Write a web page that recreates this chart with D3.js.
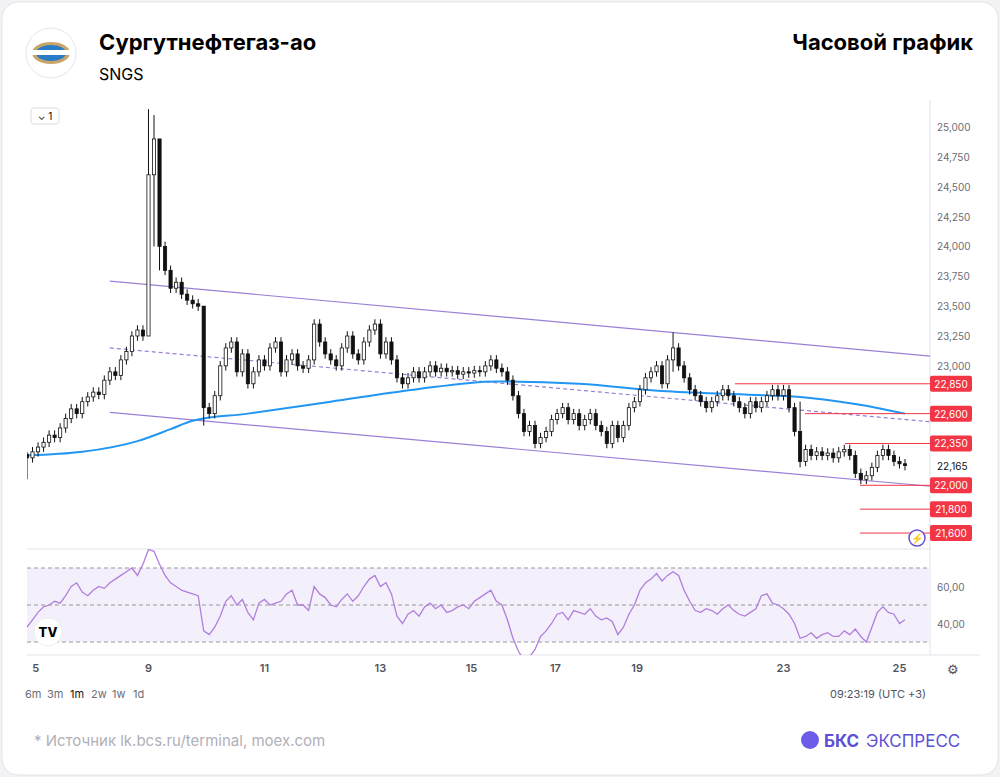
<!DOCTYPE html>
<html><head><meta charset="utf-8">
<script src="https://cdn.jsdelivr.net/npm/d3@7"></script>
<style>body{margin:0;background:#f3f3f5;font-family:Inter,"Noto Sans",sans-serif}</style>
</head><body><svg width="1000" height="777"></svg>
<script>
// closes per hourly candle, open = previous close
const closes = [22230,22280,22320,22360,22420,22400,22480,22560,22640,22600,
22700,22740,22780,22760,22880,22950,22920,23050,23120,23250,
23300,23250,24600,24900,24000,23800,23650,23700,23600,23550,
23520,23500,22650,22600,22750,23000,23150,23200,22950,23100,
22850,22950,23050,23000,23150,23200,22950,23050,23100,23000,
22980,23050,23350,23200,23100,23050,23000,23150,23250,23100,
23050,23200,23300,23350,23100,23200,23050,22900,22850,22900,
22950,22900,22950,23000,22950,22980,22950,22960,22930,22950,
22940,22960,22950,23000,23050,22980,22950,22880,22750,22600,
22450,22500,22350,22400,22450,22550,22600,22650,22550,22600,
22500,22550,22600,22500,22450,22350,22500,22400,22500,22650,
22700,22800,22900,22950,23000,22850,23050,23150,23000,22900,
22800,22750,22700,22650,22700,22750,22800,22750,22700,22650,
22600,22700,22650,22700,22750,22800,22750,22800,22650,22450,
22200,22300,22250,22280,22250,22270,22230,22280,22300,22250,
22100,22050,22080,22150,22250,22300,22250,22200,22180,22165];
const firstOpen = 22260;
const bigWicks = {0:[22280,22050],22:[25150,23300],23:[25100,24000],24:[24500,23800],32:[23500,22500],117:[23280,22950],140:[22700,22150]};
const rsi = [38,42,46,49,50,52,51,55,60,62,57,55,58,60,59,62,64,66,68,70,
66,72,80,79,72,66,62,60,58,57,56,55,36,34,38,44,52,55,50,53,
46,42,51,53,50,51,52,56,58,50,50,47,60,56,54,50,49,53,56,52,
55,60,64,66,60,62,56,44,40,45,47,44,49,51,48,50,46,47,49,50,
48,52,54,56,58,52,50,42,32,25,20,22,26,33,36,40,45,46,42,47,
46,45,48,44,42,43,41,34,38,45,50,58,62,64,67,63,66,68,66,58,
52,47,46,48,47,45,48,50,47,45,44,46,48,55,56,51,50,48,45,40,
32,33,35,32,34,35,33,33,36,34,37,33,30,38,46,49,46,45,40,42];
const maIdx = [0,10,20,26,30,40,55,70,85,100,115,130,140,150,159];
const maVal = [22250,22280,22370,22470,22540,22600,22700,22800,22870,22850,22790,22760,22740,22680,22600];
const dayTicks = [[1.6,"5"],[22,"9"],[43,"11"],[64,"13"],[80.5,"15"],[95.7,"17"],[110.5,"19"],[137,"23"],[158,"25"]];
const priceTicks = [21500,21750,22000,22250,22500,22750,23000,23250,23500,23750,24000,24250,24500,24750,25000];
const levels = [[22850,735],[22600,805],[22350,845],[22000,860],[21800,860],[21600,860]];
const channel = {upper:[[15,23710],[164,23080]], lower:[[15,22610],[164,21990]], mid:[[15,23150],[164,22530]]};

const svg = d3.select("svg");
svg.append("rect").attr("x",2).attr("y",2).attr("width",996).attr("height",773).attr("rx",16)
  .attr("fill","#fff").attr("stroke","#e4e4e8");

const x = d3.scaleLinear().domain([0,159]).range([27,905]);
const y = d3.scaleLinear().domain([21500,25000]).range([545,127]);
const yr = d3.scaleLinear().domain([30,70]).range([642,568]);
const fmt = d3.format(",");

// header
svg.append("circle").attr("cx",51).attr("cy",53).attr("r",25).attr("fill","#fff").attr("stroke","#e6e6e6");
svg.append("ellipse").attr("cx",51).attr("cy",53).attr("rx",19).attr("ry",11).attr("fill","#c9a56a");
svg.append("ellipse").attr("cx",51).attr("cy",53).attr("rx",15).attr("ry",8).attr("fill","#2a7cc7");
svg.append("rect").attr("x",32).attr("y",50).attr("width",38).attr("height",5).attr("fill","#fff");
svg.append("text").attr("x",99).attr("y",50).text("Сургутнефтегаз-ао").attr("font-size",22).attr("font-weight",700);
svg.append("text").attr("x",99).attr("y",80).text("SNGS").attr("font-size",16);
svg.append("text").attr("x",973).attr("y",50).attr("text-anchor","end").text("Часовой график").attr("font-size",22).attr("font-weight",700);

// panel frame
svg.append("line").attr("x1",930).attr("x2",930).attr("y1",100).attr("y2",655).attr("stroke","#e0e3eb");
svg.append("line").attr("x1",27).attr("x2",930).attr("y1",549).attr("y2",549).attr("stroke","#e0e3eb");
svg.append("line").attr("x1",27).attr("x2",980).attr("y1",655).attr("y2",655).attr("stroke","#e0e3eb");
svg.append("rect").attr("x",31).attr("y",108).attr("width",28).attr("height",16).attr("rx",3).attr("fill","#fff").attr("stroke","#ddd");
svg.append("text").attr("x",45).attr("y",120).attr("text-anchor","middle").attr("font-size",10).text("⌄ 1");

svg.append("clipPath").attr("id","c").append("rect").attr("x",27).attr("y",100).attr("width",903).attr("height",448);
svg.append("clipPath").attr("id","cr").append("rect").attr("x",27).attr("y",549).attr("width",903).attr("height",106);
const g = svg.append("g").attr("clip-path","url(#c)");

// price axis (ticks hidden behind level labels are skipped)
const visibleTicks = priceTicks.filter(t=>!levels.some(([v])=>Math.abs(y(v)-y(t))<14));
svg.selectAll(".pt").data(visibleTicks).join("text").attr("x",937).attr("y",d=>y(d)+4)
  .attr("font-size",10).attr("fill","#6a6d78").text(d=>fmt(d));

// channel
[["upper",null],["lower",null],["mid","4,3"]].forEach(([k,dash])=>{
  const p = channel[k];
  g.append("line").attr("x1",x(p[0][0])).attr("y1",y(p[0][1])).attr("x2",x(p[1][0])).attr("y2",y(p[1][1]))
   .attr("stroke","#9a7fd6").attr("stroke-width",1.2).attr("stroke-dasharray",dash);
});

// moving average
g.append("path").datum(maIdx.map((d,i)=>[d,maVal[i]]))
  .attr("d",d3.line().x(d=>x(d[0])).y(d=>y(d[1])).curve(d3.curveMonotoneX))
  .attr("fill","none").attr("stroke","#2196f3").attr("stroke-width",2);

// candles
const candles = closes.map((c,i)=>{
  const o = i===0?firstOpen:closes[i-1];
  const w = bigWicks[i];
  return {i,o,c,h:w?w[0]:Math.max(o,c)+40,l:w?w[1]:Math.min(o,c)-40};
});
const cg = g.selectAll(".c").data(candles).join("g");
cg.append("line").attr("x1",d=>x(d.i)).attr("x2",d=>x(d.i)).attr("y1",d=>y(d.h)).attr("y2",d=>y(d.l)).attr("stroke","#111");
cg.append("rect").attr("x",d=>x(d.i)-1.6).attr("width",3.2)
  .attr("y",d=>y(Math.max(d.o,d.c))).attr("height",d=>Math.max(1,Math.abs(y(d.o)-y(d.c))))
  .attr("fill",d=>d.c>=d.o?"#fff":"#111").attr("stroke","#111").attr("stroke-width",0.8);

// levels
levels.forEach(([v,x0])=>{
  svg.append("line").attr("x1",x0).attr("x2",930).attr("y1",y(v)).attr("y2",y(v)).attr("stroke","#f23645");
  svg.append("rect").attr("x",930).attr("y",y(v)-8).attr("width",42).attr("height",16).attr("rx",2).attr("fill","#f23645");
  svg.append("text").attr("x",951).attr("y",y(v)+4).attr("text-anchor","middle").attr("font-size",10).attr("fill","#fff").text(fmt(v));
});
svg.append("text").attr("x",937).attr("y",y(22165)+4).attr("font-size",10).attr("fill","#111").text(fmt(22165));
svg.append("circle").attr("cx",917).attr("cy",538).attr("r",8).attr("fill","#fff").attr("stroke","#6a4fd0").attr("stroke-width",1.5);
svg.append("text").attr("x",917).attr("y",542).attr("text-anchor","middle").attr("font-size",10).attr("fill","#22ab5c").text("⚡");

// RSI panel
const rg = svg.append("g").attr("clip-path","url(#cr)");
rg.append("rect").attr("x",27).attr("width",903).attr("y",yr(70)).attr("height",yr(30)-yr(70)).attr("fill","#f3effb");
[70,50,30].forEach(v=>rg.append("line").attr("x1",27).attr("x2",930).attr("y1",yr(v)).attr("y2",yr(v))
  .attr("stroke","#999").attr("stroke-dasharray","4,3"));
rg.append("path").datum(rsi).attr("d",d3.line().x((d,i)=>x(i)).y(d=>yr(d)))
  .attr("fill","none").attr("stroke","#b07fdc").attr("stroke-width",1.3);
[60,40].forEach(v=>svg.append("text").attr("x",937).attr("y",yr(v)+4).attr("font-size",10).attr("fill","#6a6d78").text(v+",00"));
svg.append("circle").attr("cx",48).attr("cy",632).attr("r",14).attr("fill","#fff").attr("stroke","#eee");
svg.append("text").attr("x",48).attr("y",637).attr("text-anchor","middle").attr("font-size",13).attr("font-weight",800).text("TV");

// time axis
svg.selectAll(".dt").data(dayTicks).join("text").attr("x",d=>x(d[0])).attr("y",672).attr("text-anchor","middle")
  .attr("font-size",11).attr("font-weight",600).attr("fill","#50535e").text(d=>d[1]);
svg.append("text").attr("x",953).attr("y",674).attr("text-anchor","middle").attr("font-size",13).attr("fill","#50535e").text("⚙");
const ranges = [["6m",25],["3m",47],["1m",70],["2w",91],["1w",112],["1d",133]];
ranges.forEach(([t,px])=>svg.append("text").attr("x",px).attr("y",698).attr("font-size",11)
  .attr("fill",t==="1m"?"#131722":"#6a6d78").text(t));
svg.append("text").attr("x",926).attr("y",698).attr("text-anchor","end").attr("font-size",11).attr("fill","#50535e").text("09:23:19 (UTC +3)");

// footer
svg.append("text").attr("x",34).attr("y",746).attr("font-size",15).attr("fill","#b0b0b8").text("*  Источник lk.bcs.ru/terminal, moex.com");
svg.append("circle").attr("cx",810).attr("cy",740).attr("r",9).attr("fill","#6c5ce7");
svg.append("text").attr("x",824).attr("y",747).attr("font-size",17).attr("font-weight",700).attr("fill","#5b4fd6").text("БКС");
svg.append("text").attr("x",866).attr("y",747).attr("font-size",17).attr("fill","#5b4fd6").text("ЭКСПРЕСС");
</script></body></html>
